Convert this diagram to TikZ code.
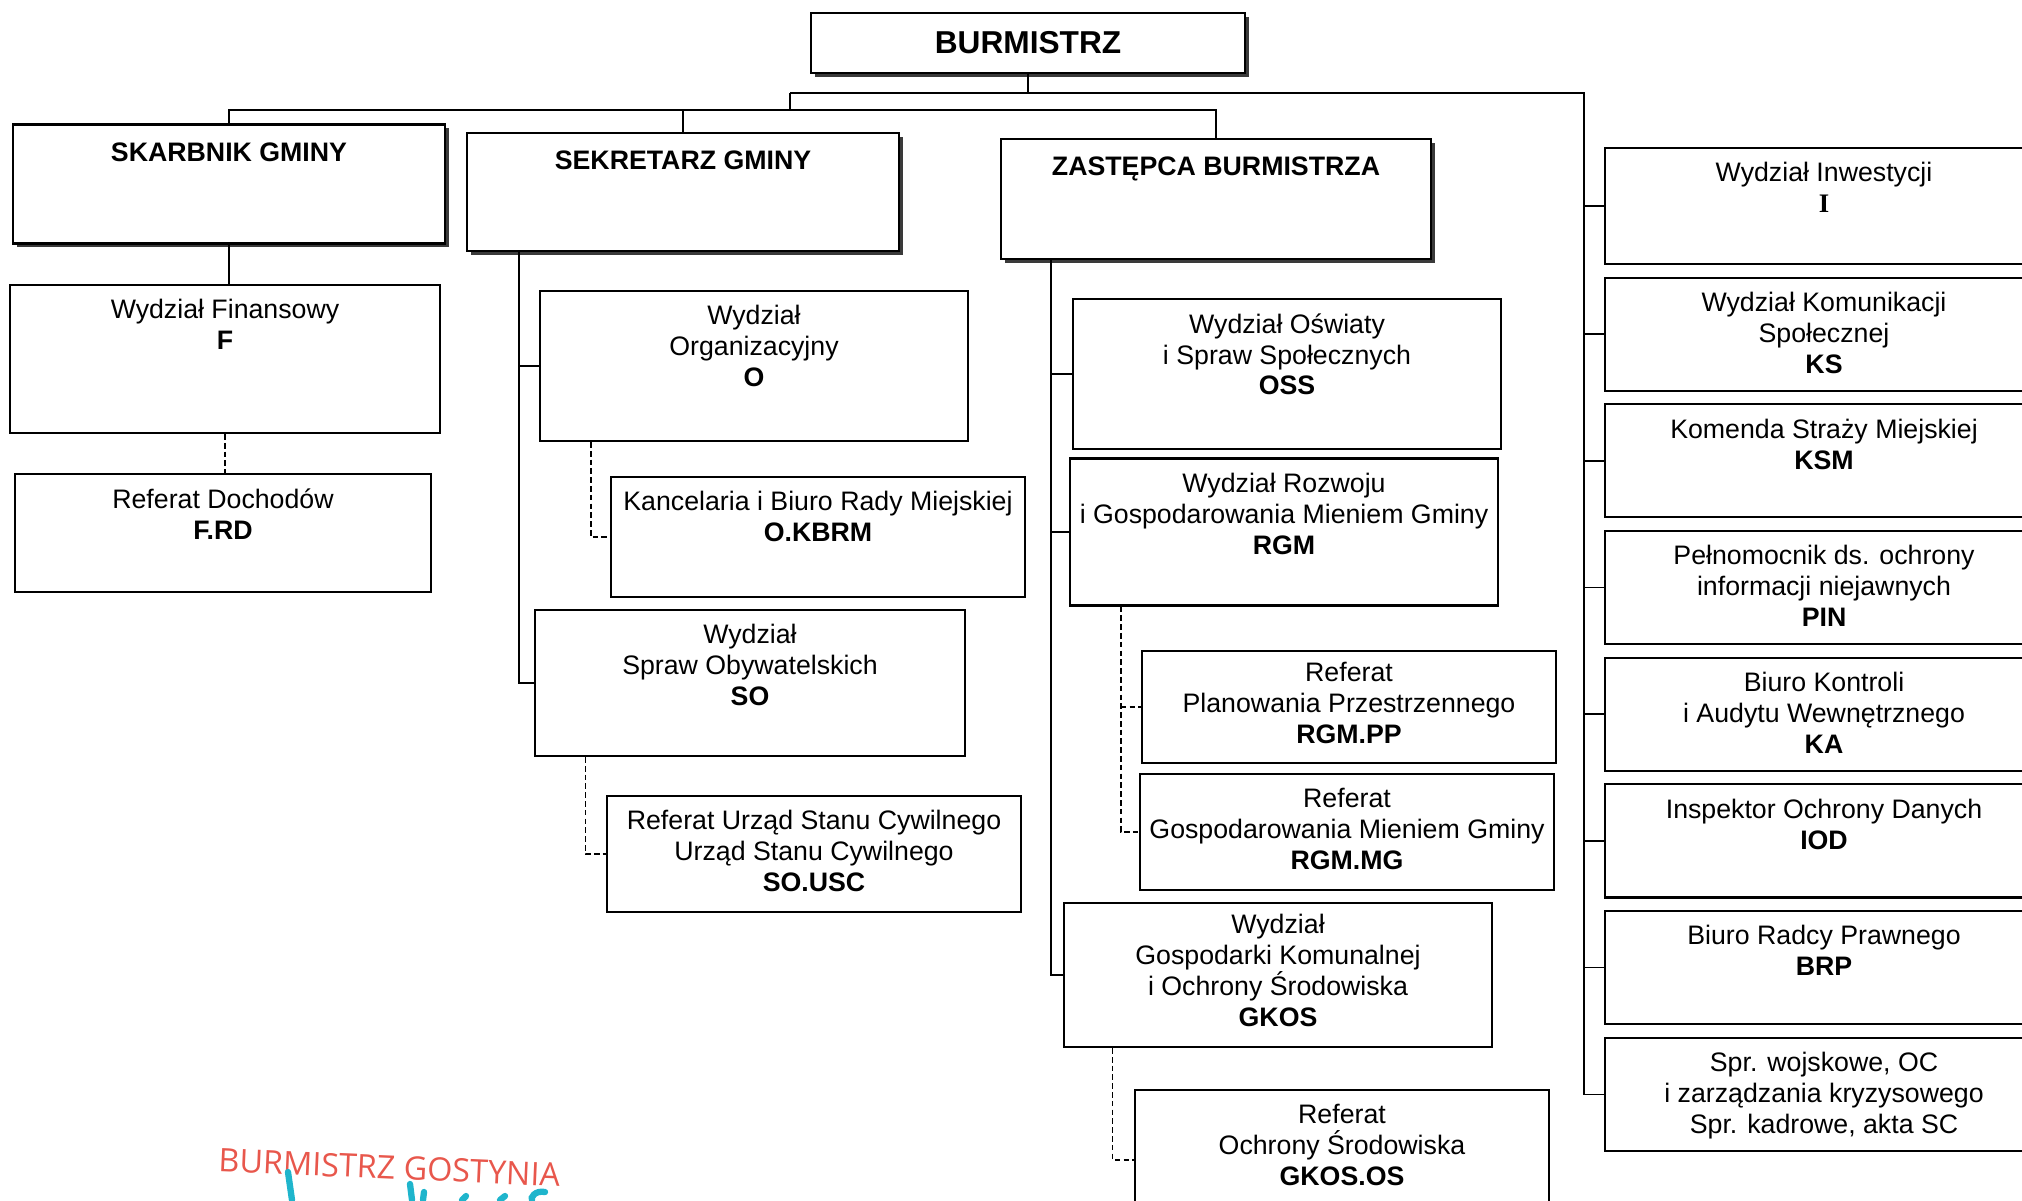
\documentclass[tikz,border=0pt]{standalone}
\usepackage{fontspec}
\setmainfont{Liberation Sans}
\newfontfamily\seriffont{Liberation Serif}
\newfontfamily\stampfont{Open Sans}
\usepackage{tikz}
\usetikzlibrary{positioning,shadows}
\definecolor{stampred}{HTML}{E8574C}
\definecolor{inkcyan}{HTML}{1FB5CC}
\definecolor{shadowgray}{HTML}{3A3A3A}
\newcommand{\unitfont}{\fontsize{7.6}{8.8}\selectfont}
\tikzset{
  unitbox/.style={
    draw,
    line width=0.6pt,
    fill=white,
    minimum width=4.28cm,
    minimum height=1.48cm,
    inner sep=0pt
  },
  refbox/.style={
    unitbox,
    minimum width=4.14cm,
    minimum height=1.18cm
  },
  postbox/.style={
    unitbox,
    minimum width=4.38cm,
    minimum height=1.13cm
  },
  headbox/.style={
    unitbox,
    minimum width=4.31cm,
    minimum height=1.19cm,
    drop shadow={shadow xshift=1.1pt, shadow yshift=-1.1pt, fill=shadowgray, opacity=1}
  },
  boxtext/.style={
    anchor=north,
    align=center,
    inner sep=0pt,
    font=\unitfont,
    yshift=-4.2pt
  },
  headtext/.style={
    boxtext,
    font=\unitfont\bfseries,
    yshift=-1.1pt
  },
  link/.style={
    draw,
    line width=0.45pt
  },
  sublink/.style={
    link,
    dash pattern=on 1.6pt off 0.9pt
  },
  signature/.style={
    draw=inkcyan,
    line width=1.8pt,
    line cap=round
  }
}

\begin{document}
\begin{tikzpicture}[x=0.01cm, y=-0.01cm]
    \useasboundingbox (0,0) rectangle (2022,1200);
    \clip (0,0) rectangle (2022,1200);

    % kierownictwo
    \node[headbox, minimum width=4.33cm, minimum height=0.6cm,
          font=\fontsize{9.0}{11}\selectfont\bfseries] (burm) at (1028,43) {BURMISTRZ};
    \node[headbox, label={[headtext]north:{SKARBNIK GMINY}}] (skarb) at (229,184) {};
    \node[headbox, minimum height=1.18cm, label={[headtext]north:{SEKRETARZ GMINY}}] (sekr) at (683,192) {};
    \node[headbox, minimum width=4.3cm, minimum height=1.2cm,
          label={[headtext]north:{ZASTĘPCA BURMISTRZA}}] (zast) at (1216,199) {};

    % skarbnik
    \node[unitbox, minimum width=4.3cm,
          label={[boxtext]north:{Wydział Finansowy\\\textbf{F}}}] (fin) at (225,359) {};
    \node[refbox, minimum width=4.16cm, below=0.39cm of fin, xshift=-0.02cm,
          label={[boxtext]north:{Referat Dochodów\\\textbf{F.RD}}}] (frd) {};

    % sekretarz
    \node[unitbox, minimum height=1.5cm,
          label={[boxtext]north:{Wydział\\Organizacyjny\\\textbf{O}}}] (org) at (754,366) {};
    \node[refbox, minimum height=1.2cm,
          label={[boxtext]north:{Kancelaria i Biuro Rady Miejskiej\\\textbf{O.KBRM}}}] (kbrm) at (818,537) {};
    \node[unitbox, minimum width=4.29cm, minimum height=1.46cm,
          label={[boxtext]north:{Wydział\\Spraw Obywatelskich\\\textbf{SO}}}] (so) at (750,683) {};
    \node[refbox, minimum height=1.16cm,
          label={[boxtext]north:{Referat Urząd Stanu Cywilnego\\Urząd Stanu Cywilnego\\\textbf{SO.USC}}}] (usc) at (814,854) {};

    % zastepca
    \node[unitbox, minimum width=4.27cm, minimum height=1.5cm,
          label={[boxtext]north:{Wydział Oświaty\\i Spraw Społecznych\\\textbf{OSS}}}] (oss) at (1287,374) {};
    \node[unitbox, minimum height=1.47cm,
          label={[boxtext]north:{Wydział Rozwoju\\i Gospodarowania Mieniem Gminy\\\textbf{RGM}}}] (rgm) at (1284,532) {};
    \node[refbox, minimum width=4.13cm, minimum height=1.12cm,
          label={[boxtext, yshift=1pt]north:{Referat\\Planowania Przestrzennego\\\textbf{RGM.PP}}}] (rgmpp) at (1349,707) {};
    \node[refbox, minimum width=4.13cm, minimum height=1.16cm,
          label={[boxtext]north:{Referat\\Gospodarowania Mieniem Gminy\\\textbf{RGM.MG}}}] (rgmmg) at (1347,832) {};
    \node[unitbox, minimum width=4.27cm, minimum height=1.44cm,
          label={[boxtext, yshift=1pt]north:{Wydział\\Gospodarki Komunalnej\\i Ochrony Środowiska\\\textbf{GKOS}}}] (gkos) at (1278,975) {};
    \node[refbox, minimum height=1.4cm,
          label={[boxtext]north:{Referat\\Ochrony Środowiska\\\textbf{GKOS.OS}}}] (gkosos) at (1342,1160) {};

    % stanowiska podlegle burmistrzowi
    \node[postbox, minimum height=1.16cm,
          label={[boxtext]north:{Wydział Inwestycji\\{\seriffont\bfseries I}}}] (inw) at (1824,206) {};
    \node[postbox, below=0.115cm of inw,
          label={[boxtext]north:{Wydział Komunikacji\\Społecznej\\\textbf{KS}}}] (ks) {};
    \node[postbox, below=0.115cm of ks,
          label={[boxtext]north:{Komenda Straży Miejskiej\\\textbf{KSM}}}] (ksm) {};
    \node[postbox, below=0.115cm of ksm,
          label={[boxtext]north:{Pełnomocnik ds. ochrony\\informacji niejawnych\\\textbf{PIN}}}] (pin) {};
    \node[postbox, below=0.115cm of pin,
          label={[boxtext]north:{Biuro Kontroli\\i Audytu Wewnętrznego\\\textbf{KA}}}] (ka) {};
    \node[postbox, below=0.115cm of ka,
          label={[boxtext]north:{Inspektor Ochrony Danych\\\textbf{IOD}}}] (iod) {};
    \node[postbox, below=0.115cm of iod,
          label={[boxtext]north:{Biuro Radcy Prawnego\\\textbf{BRP}}}] (brp) {};
    \node[postbox, below=0.115cm of brp,
          label={[boxtext]north:{Spr. wojskowe, OC\\i zarządzania kryzysowego\\Spr. kadrowe, akta SC}}] (spr) {};

    % szyny
    \coordinate (topbus) at (790,93);
    \coordinate (midbus) at (790,110);
    \coordinate (rail) at (1584,93);
    \coordinate (sekrail) at (519,251);
    \coordinate (zastrail) at (1051,259);
    \coordinate (orgdrop) at ([xshift=0.52cm]org.south west);
    \coordinate (sodrop) at ([xshift=0.51cm]so.south west);
    \coordinate (rgmdrop) at ([xshift=0.52cm]rgm.south west);
    \coordinate (gkosdrop) at ([xshift=0.49cm]gkos.south west);

    \draw[link] (burm.south) |- (topbus);
    \draw[link] (topbus) -- (midbus);
    \draw[link] (topbus) -- (rail) |- (spr.west);
    \foreach \post in {inw,ks,ksm,pin,ka,iod,brp}
        \draw[link] (rail |- \post.west) -- (\post.west);
    \draw[link] (skarb.north) |- (midbus);
    \draw[link] (zast.north) |- (midbus);
    \draw[link] (sekr.north) -- (sekr.north |- midbus);

    \draw[link] (skarb.south) -- (skarb.south |- fin.north);
    \draw[sublink] (fin.south) -- (fin.south |- frd.north);

    \draw[link] (sekrail) |- (so.west);
    \draw[link] (sekrail |- org.west) -- (org.west);
    \draw[sublink] (orgdrop) |- (kbrm.west);
    \draw[sublink] (sodrop) |- (usc.west);

    \draw[link] (zastrail) |- (gkos.west);
    \draw[link] (zastrail |- oss.west) -- (oss.west);
    \draw[link] (zastrail |- rgm.west) -- (rgm.west);
    \draw[sublink] (rgmdrop) |- (rgmmg.west);
    \draw[sublink] (rgmdrop |- rgmpp.west) -- (rgmpp.west);
    \draw[sublink] (gkosdrop) |- (gkosos.west);

    % pieczatka i podpis
    \node[font=\stampfont\fontsize{9.2}{11}\selectfont, text=stampred, rotate=-2.5,
          anchor=west, inner sep=0pt] (stamp) at (218,1160) {BURMISTRZ GOSTYNIA};
    \draw[signature] (288,1172) -- (292,1200);
    \draw[signature] (410,1184) -- (412,1200);
    \draw[signature] (424,1192) -- (423,1200);
    \draw[signature] (466,1196) -- (462,1200);
    \draw[signature] (505,1196) -- (500,1200);
    \draw[signature] (545,1192) .. controls (535,1190) and (530,1198) .. (532,1200);
\end{tikzpicture}
\end{document}
